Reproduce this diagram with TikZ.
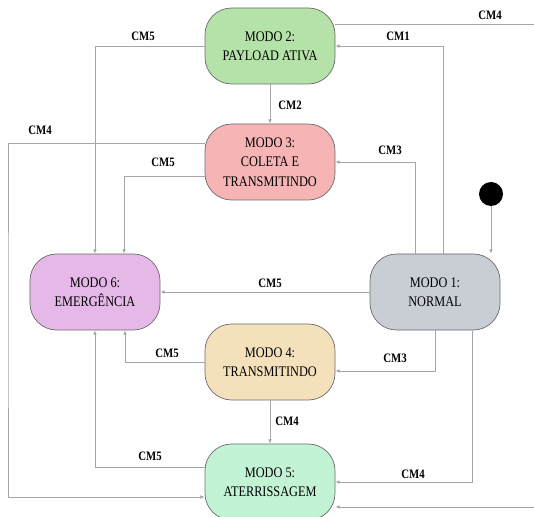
\documentclass[tikz,border=0pt]{standalone}
\usepackage{fontspec}
\setmainfont{Liberation Serif}[FakeStretch=0.84]
\usetikzlibrary{arrows.meta,positioning,calc}
\definecolor{verdeA}{HTML}{B4E2A8}
\definecolor{rosaA}{HTML}{F6B4B4}
\definecolor{roxoA}{HTML}{E6B8E8}
\definecolor{cinzaA}{HTML}{C9CED4}
\definecolor{beginA}{HTML}{F4E1BC}
\definecolor{mentaA}{HTML}{C2F3D4}
\tikzset{
  modo/.style={
    rectangle, rounded corners=0.8cm, draw=black!58, line width=0.6pt,
    minimum width=3.9cm, minimum height=2.28cm,
    align=center, font=\fontsize{12.5}{16.5}\selectfont
  },
  M1/.style={modo, fill=cinzaA},
  M2/.style={modo, fill=verdeA},
  M3/.style={modo, fill=rosaA},
  M4/.style={modo, fill=beginA},
  M5/.style={modo, fill=mentaA},
  M6/.style={modo, fill=roxoA},
  conn/.style={-{Latex[length=1.3mm,width=1.1mm]}, line width=0.7pt, draw=black!35},
  rotulo/.style={font=\fontsize{11}{12}\selectfont\bfseries, inner sep=1pt},
  inicio/.style={circle, fill=black, minimum size=0.72cm, inner sep=0pt}
}

\begin{document}
\begin{tikzpicture}[x=0.03cm, y=-0.03cm]
  \useasboundingbox (0,0) rectangle (534,517);

  % modos
  \node[M2] (m2) at (270,46) {MODO 2:\\PAYLOAD ATIVA};
  \node[M3] (m3) at (270,162) {MODO 3:\\COLETA E\\TRANSMITINDO};
  \node[M6] (m6) at (95,292) {MODO 6:\\EMERGÊNCIA};
  \node[M1] (m1) at (435,292) {MODO 1:\\NORMAL};
  \node[M4] (m4) at (270,362) {MODO 4:\\TRANSMITINDO};
  \node[M5] (m5) at (270,482) {MODO 5:\\ATERRISSAGEM};
  \node[inicio] (ini) at (491,194) {};
  \coordinate (lft) at (8,320);
  \coordinate (rgt) at (545,300);

  % transicoes
  \draw[conn] (ini) -- (ini |- m1.north);
  \draw[conn] (m2) -- (m3);
  \draw[conn] (m4) -- (m5);
  \draw[conn] (m1) -- (m6);
  \draw[conn] ($(m1.north)+(8,0)$) |- (m2.east);
  \draw[conn] ($(m1.north)+(-20,0)$) |- (m3.east);
  \draw[conn] (m1.south) |- ($(m4.east)+(0,9)$);
  \draw[conn] ($(m1.south)+(37,0)$) |- (m5.east);
  \draw[conn] (m2.west) -| (m6.north);
  \draw[conn] ($(m3.west)+(0,14)$) -| ($(m6.north)+(29,0)$);
  \draw[conn] (m4.west) -| ($(m6.south)+(30,0)$);
  \draw[conn] ($(m5.west)+(0,-15)$) -| (m6.south);
  \draw[conn] ($(m3.west)+(0,-19)$) -| (lft) |- ($(m5.west)+(0,15)$);
  \draw[conn] ($(m2.east)+(0,-22)$) -| (rgt) |- ($(m5.east)+(0,25)$);

  % rotulos
  \node[rotulo] (l1) at (490,15) {CM4};
  \node[rotulo] (l2) at (143,36) {CM5};
  \node[rotulo] (l3) at (398,36) {CM1};
  \node[rotulo] (l4) at (290,105) {CM2};
  \node[rotulo] (l5) at (40,130) {CM4};
  \node[rotulo] (l6) at (163,162) {CM5};
  \node[rotulo] (l7) at (390,150) {CM3};
  \node[rotulo] (l8) at (270,283) {CM5};
  \node[rotulo] (l9) at (167,353) {CM5};
  \node[rotulo] (l10) at (395,358) {CM3};
  \node[rotulo] (l11) at (287,421) {CM4};
  \node[rotulo] (l12) at (150,456) {CM5};
  \node[rotulo] (l13) at (413,474) {CM4};
\end{tikzpicture}
\end{document}
